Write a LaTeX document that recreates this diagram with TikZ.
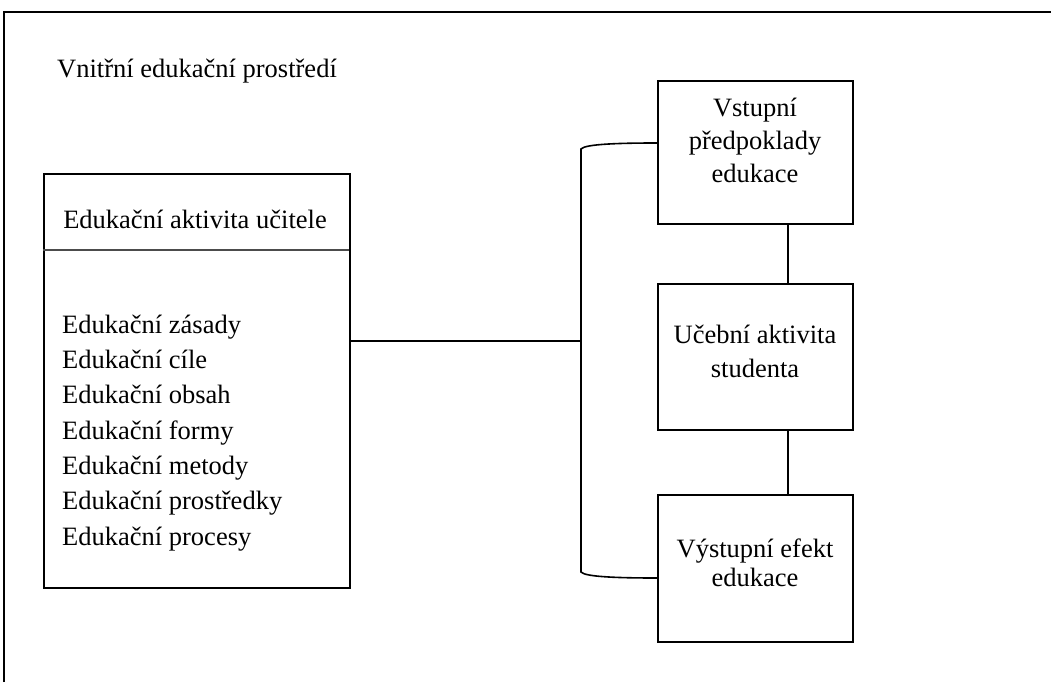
\documentclass[tikz,border=0pt]{standalone}
\usepackage{fontspec}
\setmainfont{Liberation Serif}
\begin{document}
\begin{tikzpicture}[x=1pt,y=-1pt,
  box/.style={draw,line width=2pt,inner sep=0pt},
  conn/.style={line width=1.6pt},
  lbl/.style={font=\fontsize{26.5}{32}\selectfont,inner sep=0pt,anchor=base},
  lbll/.style={lbl,anchor=base west}]
\useasboundingbox (0,0) rectangle (1051,682);
% outer frame (only top and left visible)
\coordinate (ftl) at (4,12);
\coordinate (ftr) at (1051,12);
\coordinate (fbl) at (4,682);
\draw[line width=1.8pt] (fbl) -- (ftl) -- (ftr);
\node[lbll] (title) at (57,78) {Vnitřní edukační prostředí};
% left box
\node[box,minimum width=306pt,minimum height=414pt,anchor=north west] (L) at (43,173) {};
\coordinate (sepl) at (43,250);
\coordinate (sepr) at (349,250);
\draw[line width=1.2pt,black!70] (sepl) -- (sepr);
\node[lbl] (Lt) at (195,228) {Edukační aktivita učitele};
\node[lbll] (l1) at (62,333) {Edukační zásady};
\node[lbll] (l2) at (62,368.3) {Edukační cíle};
\node[lbll] (l3) at (62,403.7) {Edukační obsah};
\node[lbll] (l4) at (62,439) {Edukační formy};
\node[lbll] (l5) at (62,474.3) {Edukační metody};
\node[lbll] (l6) at (62,509.7) {Edukační prostředky};
\node[lbll] (l7) at (62,545) {Edukační procesy};
% right boxes
\node[box,minimum width=195pt,minimum height=143pt,anchor=north west] (A) at (657,80) {};
\node[lbl] (a1) at (755,117) {Vstupní};
\node[lbl] (a2) at (755,149) {předpoklady};
\node[lbl] (a3) at (755,182) {edukace};
\node[box,minimum width=195pt,minimum height=146pt,anchor=north west] (B) at (657,283) {};
\node[lbl] (b1) at (755,343) {Učební aktivita};
\node[lbl] (b2) at (755,377) {studenta};
\node[box,minimum width=195pt,minimum height=147pt,anchor=north west] (C) at (657,494) {};
\node[lbl] (c1) at (755,557) {Výstupní efekt};
\node[lbl] (c2) at (755,586) {edukace};
% connectors between right boxes
\draw[conn] (A.south -| 788,0) -- (B.north -| 788,0);
\draw[conn] (B.south -| 788,0) -- (C.north -| 788,0);
% bracket
\coordinate (bt) at (581,149);
\coordinate (bb) at (581,572);
\coordinate (bm) at (581,341);
\draw[conn] (A.west |- 0,143) .. controls (620,143) and (585,144) .. (bt) -- (bb) .. controls (585,577) and (620,578) .. (C.west |- 0,578);
\draw[conn] (L.east |- bm) -- (bm);
\end{tikzpicture}
\end{document}
